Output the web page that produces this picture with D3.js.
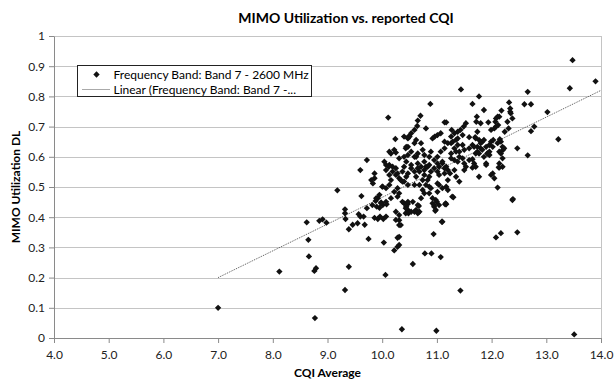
<!DOCTYPE html>
<html>
<head>
<meta charset="utf-8">
<script src="https://cdn.jsdelivr.net/npm/d3@7"></script>
<style>
  body { margin: 0; background: #fff; }
  svg { display: block; font-family: Lato, "Liberation Sans", sans-serif; }
</style>
</head>
<body>
<div id="chart"></div>
<script>
// values
var cqi = [7.0,8.12,8.62,8.65,8.66,8.76,8.79,8.77,8.85,8.91,8.98,9.32,9.39,9.39,9.32,9.32,9.33,9.46,9.55,9.68,
  9.75,10.03,10.06,10.22,10.28,10.31,10.34,10.31,10.31,11.1,10.94,12.08,12.17,12.47,10.56,10.78,10.9,11.07,11.43,10.36,
  10.99,13.51,10.4,10.47,10.47,10.48,10.56,10.59,10.65,10.67,10.92,10.95,10.97,11.0,11.17,12.38,13.48,13.9,13.43,11.44,
  11.77,12.66,12.6,12.72,10.88,11.65,13.02,12.32,12.34,12.34,12.72,12.78,13.22,12.47,12.66,12.11,12.39,11.86,12.35,12.18,
  12.14,12.11,12.08,12.07,12.12,12.08,11.73,11.72,11.8,11.74,11.94,11.99,12.05,12.29,12.38,12.24,12.31,11.59,11.7,11.77,
  11.83,11.86,11.65,11.74,11.8,11.9,11.96,11.99,12.03,12.15,12.2,12.21,12.14,11.74,11.71,11.77,11.83,11.93,11.96,12.2,
  11.65,11.9,12.13,10.7,10.65,11.14,11.17,10.64,10.59,10.53,10.5,10.47,10.8,11.53,11.49,11.43,11.38,11.27,11.32,11.26,
  11.07,11.01,10.96,10.92,10.59,10.62,10.4,10.47,10.53,10.4,10.59,10.71,10.74,10.65,10.77,10.89,10.86,10.95,11.01,11.07,
  11.14,11.14,11.2,11.29,11.35,11.38,11.47,11.5,11.59,11.68,11.26,11.35,11.41,11.32,11.47,11.86,11.92,12.02,12.11,12.17,
  11.68,11.71,11.53,11.01,11.04,11.1,11.14,10.77,10.8,10.86,10.71,10.65,10.53,10.44,10.4,12.14,12.2,12.23,11.5,11.65,
  11.77,12.02,12.05,12.14,11.3,11.15,11.09,11.41,11.35,11.2,11.14,11.01,10.95,11.17,11.2,11.04,11.01,10.98,10.95,10.98,
  10.77,10.83,10.8,10.86,10.89,10.74,10.68,10.59,10.47,10.4,10.77,10.71,10.65,10.62,10.68,10.47,10.44,10.47,10.53,10.53,
  10.59,10.47,10.65,10.83,10.77,10.89,10.86,9.6,9.18,9.62,9.57,9.6,9.66,9.72,9.82,9.88,9.92,9.86,9.92,9.96,
  10.02,10.07,9.95,10.01,10.08,9.98,9.9,9.83,9.86,9.8,9.86,10.01,10.07,10.13,10.16,10.13,10.07,10.19,10.25,10.31,
  10.37,10.28,10.31,10.28,10.37,10.43,10.43,10.25,10.31,10.25,10.31,10.28,10.13,10.19,10.25,10.11,10.24,9.72,10.13,10.16,
  10.22,10.25,10.31,10.43,10.48,10.47,10.04,10.07,10.12,10.0,9.95,9.89,9.98,10.07,10.16,10.22,10.28,10.44,10.62,10.37,
  10.34,10.44,10.62,10.68,10.74,10.86,10.92,11.04,11.16,11.28,11.1,11.01,11.04,11.2,11.24,11.32,11.17,11.1,11.26,11.38,
  11.5,11.59,11.41,11.32,11.26,11.38,11.47,11.71,11.8,11.96,11.9,11.99,12.17];
var mimo = [0.10,0.22,0.383,0.325,0.27,0.222,0.231,0.066,0.388,0.393,0.382,0.159,0.236,0.36,0.426,0.413,0.394,0.375,0.38,0.375,
  0.328,0.316,0.209,0.29,0.302,0.39,0.374,0.335,0.308,0.385,0.344,0.333,0.347,0.35,0.245,0.28,0.28,0.268,0.157,0.029,
  0.024,0.012,0.446,0.444,0.424,0.413,0.451,0.418,0.413,0.437,0.446,0.435,0.421,0.451,0.443,0.457,0.92,0.85,0.827,0.823,
  0.80,0.815,0.774,0.774,0.775,0.775,0.748,0.78,0.76,0.749,0.685,0.70,0.658,0.628,0.605,0.498,0.46,0.755,0.744,0.753,
  0.733,0.733,0.727,0.716,0.705,0.70,0.733,0.716,0.711,0.683,0.714,0.689,0.694,0.716,0.727,0.683,0.694,0.665,0.665,0.656,
  0.65,0.656,0.639,0.633,0.628,0.633,0.639,0.65,0.656,0.658,0.633,0.623,0.617,0.617,0.611,0.611,0.623,0.611,0.606,0.595,
  0.592,0.573,0.565,0.736,0.72,0.714,0.714,0.702,0.689,0.678,0.667,0.661,0.694,0.711,0.70,0.689,0.683,0.689,0.678,0.667,
  0.678,0.672,0.667,0.661,0.645,0.656,0.667,0.633,0.617,0.6,0.6,0.645,0.623,0.611,0.606,0.617,0.6,0.589,0.6,0.617,
  0.628,0.65,0.645,0.65,0.656,0.639,0.639,0.623,0.628,0.633,0.611,0.617,0.6,0.589,0.595,0.6,0.611,0.633,0.645,0.65,
  0.578,0.567,0.567,0.578,0.567,0.578,0.562,0.584,0.567,0.573,0.567,0.578,0.573,0.584,0.567,0.578,0.567,0.628,0.556,0.564,
  0.534,0.545,0.529,0.564,0.466,0.443,0.385,0.518,0.534,0.556,0.545,0.551,0.562,0.501,0.49,0.507,0.484,0.457,0.44,0.424,
  0.54,0.523,0.507,0.501,0.496,0.49,0.507,0.507,0.507,0.518,0.479,0.463,0.44,0.424,0.418,0.451,0.435,0.418,0.418,0.562,
  0.551,0.545,0.562,0.567,0.556,0.551,0.534,0.556,0.489,0.47,0.41,0.402,0.402,0.43,0.44,0.454,0.463,0.398,0.394,0.402,
  0.394,0.402,0.431,0.44,0.443,0.449,0.435,0.512,0.529,0.523,0.545,0.501,0.496,0.507,0.523,0.54,0.556,0.551,0.54,0.529,
  0.518,0.496,0.479,0.468,0.451,0.43,0.413,0.418,0.407,0.391,0.374,0.332,0.573,0.567,0.562,0.73,0.659,0.589,0.617,0.611,
  0.623,0.614,0.595,0.628,0.667,0.606,0.584,0.573,0.567,0.501,0.474,0.463,0.446,0.451,0.463,0.484,0.545,0.633,0.6,0.551,
  0.523,0.534,0.534,0.551,0.523,0.479,0.463,0.44,0.446,0.468,0.496,0.512,0.54,0.523,0.545,0.556,0.567,0.584,0.595,0.584,
  0.578,0.589,0.617,0.628,0.645,0.661,0.672,0.661,0.645,0.617,0.578,0.54,0.611];

// linear trendline end points
var trendX = [7.0, 14.0];
var trendY = [0.2, 0.82];

var xTicks = [4, 5, 6, 7, 8, 9, 10, 11, 12, 13, 14];
var yTicks = [0, 0.1, 0.2, 0.3, 0.4, 0.5, 0.6, 0.7, 0.8, 0.9, 1];

var seriesName = "Frequency Band: Band 7 - 2600 MHz";
var trendName = "Linear (Frequency Band: Band 7 -...";

var w = 615, h = 386;
var plotL = 54, plotR = 601, plotT = 36, plotB = 338;

var svg = d3.select("#chart").append("svg")
  .attr("width", w)
  .attr("height", h);

var xScale = d3.scaleLinear().domain([4, 14]).range([plotL, plotR]);
var yScale = d3.scaleLinear().domain([0, 1]).range([plotB, plotT]);

// horizontal gridlines
svg.append("g")
  .selectAll("line")
  .data(yTicks.slice(1))
  .enter()
  .append("line")
  .attr("x1", plotL).attr("x2", plotR)
  .attr("y1", function(d) { return Math.round(yScale(d)) + 0.5; })
  .attr("y2", function(d) { return Math.round(yScale(d)) + 0.5; })
  .attr("stroke", "#c4c4c4")
  .attr("stroke-width", 1);

// right border of plot area
svg.append("line")
  .attr("x1", plotR + 0.5).attr("x2", plotR + 0.5)
  .attr("y1", plotT).attr("y2", plotB)
  .attr("stroke", "#c4c4c4");

var xAxis = d3.axisBottom(xScale)
  .tickValues(xTicks)
  .tickSize(5)
  .tickSizeOuter(0)
  .tickFormat(d3.format(".1f"));

var yAxis = d3.axisLeft(yScale)
  .tickValues(yTicks)
  .tickSize(5)
  .tickSizeOuter(0)
  .tickFormat(function(d) { return (d === 0 || d === 1) ? String(d) : d.toFixed(1); });

var gx = svg.append("g")
  .attr("transform", "translate(0," + plotB + ")")
  .call(xAxis);
var gy = svg.append("g")
  .attr("transform", "translate(" + plotL + ",0)")
  .call(yAxis);

[gx, gy].forEach(function(g) {
  g.select(".domain").attr("stroke", "#8a8a8a");
  g.selectAll(".tick line").attr("stroke", "#8a8a8a");
  g.selectAll(".tick text")
    .attr("fill", "#222")
    .style("font-size", "12px")
    .style("font-family", "Lato, sans-serif");
});
gx.selectAll(".tick text").attr("dy", "1.05em");
gy.selectAll(".tick text").attr("x", -9);

// trendline
svg.append("line")
  .attr("x1", xScale(trendX[0])).attr("y1", yScale(trendY[0]))
  .attr("x2", xScale(trendX[1])).attr("y2", yScale(trendY[1]))
  .attr("stroke", "#555")
  .attr("stroke-width", 1)
  .attr("stroke-dasharray", "1,1");

// points: diamond markers
var diamond = d3.symbol().type(d3.symbolSquare).size(20);
svg.append("g")
  .selectAll("path")
  .data(cqi)
  .enter()
  .append("path")
  .attr("d", diamond)
  .attr("transform", function(d, i) {
    return "translate(" + xScale(d) + "," + yScale(mimo[i]) + ") rotate(45)";
  })
  .attr("fill", "#111");

// title and axis titles
svg.append("text")
  .attr("x", 346).attr("y", 23)
  .attr("text-anchor", "middle")
  .style("font-size", "14px")
  .style("font-weight", "bold")
  .text("MIMO Utilization vs. reported CQI");

svg.append("text")
  .attr("x", (plotL + plotR) / 2).attr("y", 377)
  .attr("text-anchor", "middle")
  .style("font-size", "12px")
  .style("font-weight", "bold")
  .text("CQI Average");

svg.append("text")
  .attr("transform", "translate(20," + ((plotT + plotB) / 2) + ") rotate(-90)")
  .attr("text-anchor", "middle")
  .style("font-size", "12px")
  .style("font-weight", "bold")
  .text("MIMO Utilization DL");

// legend
var legend = svg.append("g").attr("transform", "translate(77.5,65.5)");
legend.append("rect")
  .attr("width", 234).attr("height", 31)
  .attr("fill", "#fff")
  .attr("stroke", "#222")
  .attr("stroke-width", 1);
legend.append("path")
  .attr("d", diamond)
  .attr("transform", "translate(19,9) rotate(45)")
  .attr("fill", "#111");
legend.append("line")
  .attr("x1", 5).attr("x2", 33)
  .attr("y1", 24).attr("y2", 24)
  .attr("stroke", "#555")
  .attr("stroke-dasharray", "1,1");
legend.append("text")
  .attr("x", 36).attr("y", 13.5)
  .style("font-size", "12px")
  .text(seriesName);
legend.append("text")
  .attr("x", 36).attr("y", 28)
  .style("font-size", "12px")
  .text(trendName);
</script>
</body>
</html>
